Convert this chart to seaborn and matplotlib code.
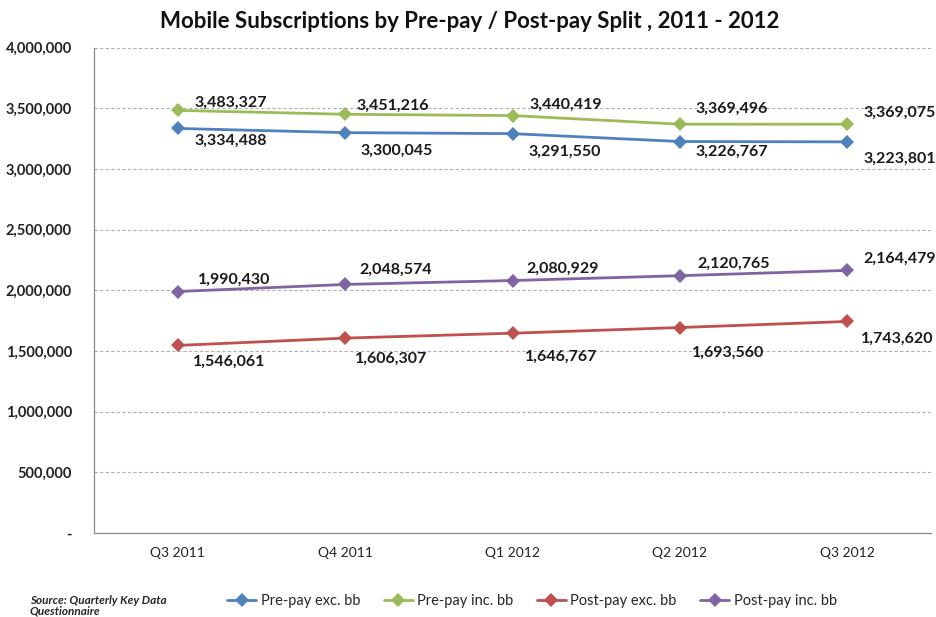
import matplotlib
matplotlib.use("Agg")
import matplotlib.pyplot as plt
import pandas as pd
import seaborn as sns
from matplotlib.ticker import FuncFormatter, FixedLocator

quarters = ["Q3 2011", "Q4 2011", "Q1 2012", "Q2 2012", "Q3 2012"]
series_names = ["Pre-pay exc. bb", "Pre-pay inc. bb", "Post-pay exc. bb", "Post-pay inc. bb"]
prepay_exc = [3334488, 3300045, 3291550, 3226767, 3223801]
prepay_inc = [3483327, 3451216, 3440419, 3369496, 3369075]
postpay_exc = [1546061, 1606307, 1646767, 1693560, 1743620]
postpay_inc = [1990430, 2048574, 2080929, 2120765, 2164479]

colors = ["#4F81BD", "#9BBB59", "#C0504D", "#8064A2"]
# label offsets in pixels (dx, dy), dy positive = up
label_dx = {
    "Pre-pay exc. bb": [17, 15, 16, 16, 16],
    "Pre-pay inc. bb": [17, 11, 17, 16, 16],
    "Post-pay exc. bb": [15, 10, 12, 12, 14],
    "Post-pay inc. bb": [20, 14, 14, 17, 16],
}
label_dy = {
    "Pre-pay exc. bb": [-12, -18, -18, -10, -17],
    "Pre-pay inc. bb": [8, 8, 11, 15, 11],
    "Post-pay exc. bb": [-16, -21, -24, -25, -17],
    "Post-pay inc. bb": [12, 15, 12, 12, 12],
}

values = {
    "Pre-pay exc. bb": prepay_exc,
    "Pre-pay inc. bb": prepay_inc,
    "Post-pay exc. bb": postpay_exc,
    "Post-pay inc. bb": postpay_inc,
}
df = pd.DataFrame(
    [(q, name, v) for name in series_names for q, v in zip(quarters, values[name])],
    columns=["quarter", "series", "subs"],
)

sns.set_style("white")
plt.rcParams["font.family"] = ["Lato", "DejaVu Sans"]

fig = plt.figure(figsize=(9.36, 6.17), dpi=100)
ax = fig.add_axes([94 / 936, 1 - 533 / 617, (931 - 94) / 936, (533 - 47.7) / 617])

sns.lineplot(
    data=df, x="quarter", y="subs", hue="series", hue_order=series_names,
    palette=colors, marker="D", markersize=7, markeredgewidth=0,
    linewidth=2.0, ax=ax, sort=False,
)

for name in series_names:
    for i, v in enumerate(values[name]):
        ax.annotate(f"{v:,}", (i, v), xytext=(label_dx[name][i], label_dy[name][i]),
                    textcoords="offset pixels", ha="left", va="center",
                    fontsize=11.5, fontweight="bold", color="#1a1a1a")

ax.set_xlim(-0.5, 4.5)
ax.set_ylim(0, 4000000)
ax.set_yticks(range(0, 4000001, 500000))
ax.yaxis.set_major_formatter(FuncFormatter(lambda v, p: "-" if v == 0 else f"{int(v):,}"))
ax.set_xticks(range(len(quarters)))
ax.set_xticklabels(quarters)
ax.xaxis.set_minor_locator(FixedLocator([-0.5, 0.5, 1.5, 2.5, 3.5, 4.5]))
ax.tick_params(axis="x", which="major", length=0, pad=10, labelsize=10, labelcolor="#222222")
ax.tick_params(axis="x", which="minor", length=4, direction="inout", color="#888888", width=0.8)
ax.tick_params(axis="y", length=4, color="#888888", width=0.8, pad=12, labelsize=10.5)
for lbl in ax.get_yticklabels():
    lbl.set_fontweight("bold")
    lbl.set_color("#222222")

ax.grid(axis="y", linestyle=(0, (3, 2)), color="#b0b0b0", linewidth=0.8)
ax.set_axisbelow(True)
for side in ["top", "right"]:
    ax.spines[side].set_visible(False)
for side in ["left", "bottom"]:
    ax.spines[side].set_color("#888888")
    ax.spines[side].set_linewidth(0.9)
ax.set_xlabel("")
ax.set_ylabel("")

handles, labels = ax.get_legend_handles_labels()
ax.get_legend().remove()
fig.legend(handles, labels, loc="center", bbox_to_anchor=(532 / 936, 1 - 601 / 617),
           ncol=4, frameon=False, fontsize=10.5, handlelength=2.0, handletextpad=0.3,
           columnspacing=1.6)

fig.text(30 / 936, 1 - 606 / 617, "Source: Quarterly Key Data\nQuestionnaire", fontsize=8.5,
         fontweight="bold", fontstyle="italic", va="center", ha="left", linespacing=1.0)
fig.text(470 / 936, 1 - 22 / 617, "Mobile Subscriptions by Pre-pay / Post-pay Split , 2011 - 2012",
         fontsize=16, fontweight="bold", ha="center", va="center", color="#111111")

fig.savefig("out.png", dpi=100)
